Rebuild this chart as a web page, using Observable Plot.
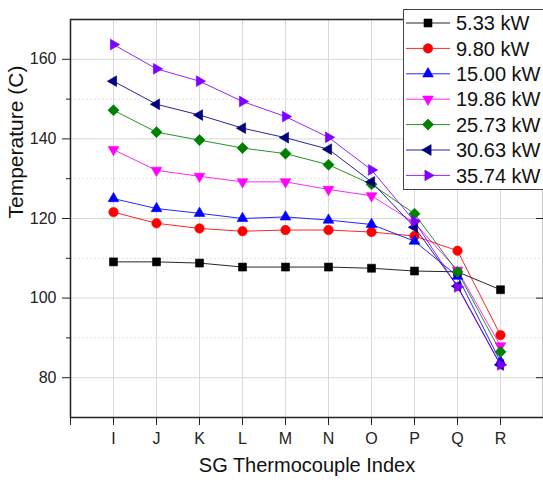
<!DOCTYPE html>
<html><head><meta charset="utf-8">
<script src="https://cdn.jsdelivr.net/npm/d3@7"></script>
<script src="https://cdn.jsdelivr.net/npm/@observablehq/plot@0.6"></script>
<style>
body{margin:0;background:#fff;}
#wrap{position:relative;width:543px;height:482px;overflow:hidden;font-family:"Liberation Sans",Arial,sans-serif;}
#legend{position:absolute;left:403px;top:9px;}
</style></head><body><div id="wrap"></div>
<script>
const categories = ["I","J","K","L","M","N","O","P","Q","R"];
const seriesNames = ["5.33 kW","9.80 kW","15.00 kW","19.86 kW","25.73 kW","30.63 kW","35.74 kW"];
const s533  = [109.1,109.1,108.8,107.8,107.8,107.8,107.5,106.8,106.6,102.1];
const s980  = [121.6,118.8,117.5,116.8,117.1,117.1,116.6,115.6,111.9,90.7];
const s1500 = [125.0,122.5,121.3,120.0,120.4,119.6,118.5,114.3,105.5,84.0];
const s1986 = [137.3,132.1,130.6,129.2,129.2,127.3,125.7,118.9,107.0,88.0];
const s2573 = [147.2,141.7,139.7,137.7,136.3,133.5,128.6,121.2,106.6,86.5];
const s3063 = [154.5,148.7,146.0,142.7,140.3,137.4,129.2,117.8,103.0,83.2];
const s3574 = [163.7,157.6,154.5,149.4,145.6,140.4,132.2,119.3,102.8,83.2];
const seriesValues = [s533,s980,s1500,s1986,s2573,s3063,s3574];
const colors = ["#000000","#ff0000","#0000ff","#ff00ff","#008000","#000080","#8000ff"];
const yMajor = [80,100,120,140,160];
const yMinor = [90,110,130,150];

// custom marker symbols
const tri = (rot) => ({draw(ctx, size){
  const a = Math.sqrt(size)*1.35, h = a*Math.sqrt(3)/2;
  const pts = [[0,-h*2/3],[a/2,h/3],[-a/2,h/3]].map(([x,y]) => {
    const c = Math.cos(rot), s = Math.sin(rot);
    return [x*c - y*s, x*s + y*c];
  });
  ctx.moveTo(pts[0][0],pts[0][1]); ctx.lineTo(pts[1][0],pts[1][1]); ctx.lineTo(pts[2][0],pts[2][1]); ctx.closePath();
}});
const squareSym = {draw(ctx,size){const s=Math.sqrt(size)/2; ctx.moveTo(-s,-s); ctx.lineTo(s,-s); ctx.lineTo(s,s); ctx.lineTo(-s,s); ctx.closePath();}};
const diamondSym = {draw(ctx,size){const s=Math.sqrt(size)*0.7; ctx.moveTo(0,-s); ctx.lineTo(s,0); ctx.lineTo(0,s); ctx.lineTo(-s,0); ctx.closePath();}};
const circleSym = {draw(ctx,size){const r=Math.sqrt(size/Math.PI)*1.05; ctx.moveTo(r,0); ctx.arc(0,0,r,0,2*Math.PI);}};
const symbols = [squareSym, circleSym, tri(0), tri(Math.PI), diamondSym, tri(-Math.PI/2), tri(Math.PI/2)];

const rows = [];
seriesValues.forEach((vals, si) => vals.forEach((v, i) => rows.push({series: seriesNames[si], cat: categories[i], v})));
const xPos = d => categories.indexOf(d.cat) + 1;

const lineMarks = seriesNames.map((name, si) =>
  Plot.line(rows.filter(d => d.series === name), {x: xPos, y: "v", stroke: colors[si], strokeWidth: 1, strokeOpacity: 0.85}));
const dotMarks = seriesNames.map((name, si) =>
  Plot.dot(rows.filter(d => d.series === name), {x: xPos, y: "v", symbol: symbols[si], r: 4.5, fill: colors[si], stroke: colors[si], strokeWidth: 0.6}));

const xTicks = d3.range(0, 12);
const chart = Plot.plot({
  width: 543, height: 482,
  marginTop: 19, marginLeft: 70, marginRight: 0, marginBottom: 65,
  style: {fontFamily: "'Liberation Sans', Arial, sans-serif", fontSize: "16px", color: "#222", background: "#fff"},
  x: {domain: [0, 11], axis: null},
  y: {domain: [70, 170], axis: null},
  marks: [
    Plot.ruleX(d3.range(1, 11), {stroke: "#d9d9d9", strokeWidth: 1}),
    Plot.ruleY(yMajor, {stroke: "#d9d9d9", strokeWidth: 1}),
    Plot.ruleY(yMinor, {stroke: "#e2e2e2", strokeWidth: 1, strokeDasharray: "2,2"}),
    ...lineMarks,
    ...dotMarks,
    Plot.axisX({ticks: xTicks, tickSize: 8, tickPadding: 7, fontSize: 16, label: null,
      tickFormat: i => (i >= 1 && i <= 10) ? categories[i - 1] : ""}),
    Plot.axisY({ticks: yMajor, tickSize: 8, tickPadding: 6, fontSize: 16, label: null}),
    Plot.axisY({ticks: yMinor, tickSize: 4, tickFormat: () => "", label: null}),
    Plot.axisY({anchor: "right", ticks: yMajor, tickSize: -8, tickFormat: () => "", label: null}),
    Plot.frame({stroke: "#222", strokeWidth: 1.5}),
    Plot.text(["Temperature (C)"], {frameAnchor: "left", dx: -54, rotate: -90, fontSize: 21, fill: "#111"}),
    Plot.text(["SG Thermocouple Index"], {frameAnchor: "bottom", dy: 54, fontSize: 20, fill: "#111"})
  ]
});
const wrap = document.getElementById("wrap");
wrap.appendChild(chart);

// legend overlay
const lw = 142, lh = 181;
const leg = d3.select(wrap).append("svg").attr("id", "legend").attr("width", lw).attr("height", lh)
  .style("font-family", "'Liberation Sans', Arial, sans-serif");
leg.append("rect").attr("x", 0.5).attr("y", 0.5).attr("width", lw).attr("height", lh - 1)
  .attr("fill", "#fff").attr("stroke", "#444").attr("stroke-width", 1);
seriesNames.forEach((name, i) => {
  const cy = 14 + i * 25.4;
  const g = leg.append("g");
  g.append("line").attr("x1", 3).attr("x2", 47).attr("y1", cy).attr("y2", cy)
    .attr("stroke", colors[i]).attr("stroke-width", 1).attr("stroke-opacity", 0.85);
  g.append("path").attr("transform", `translate(25,${cy})`)
    .attr("d", d3.symbol().type(symbols[i]).size(4.5 * 4.5 * Math.PI)())
    .attr("fill", colors[i]).attr("stroke", colors[i]).attr("stroke-width", 0.6);
  g.append("text").attr("x", 53).attr("y", cy).attr("dy", "0.36em")
    .attr("font-size", 20).attr("fill", "#111").text(name);
});
</script></body></html>
